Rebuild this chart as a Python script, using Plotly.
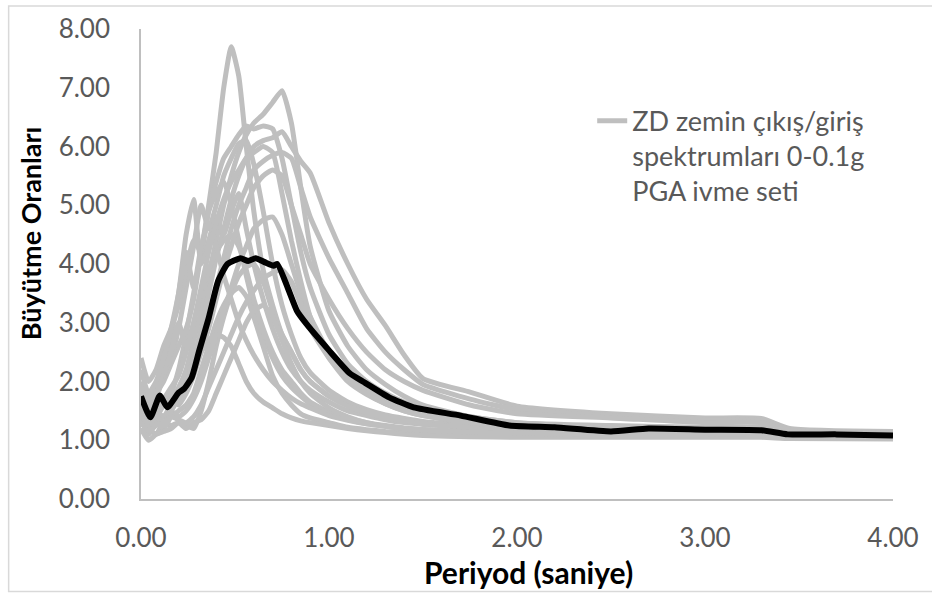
import plotly.graph_objects as go

# Periods (s) shared by the individual output/input spectral ratio curves
periods = [0.0, 0.04, 0.08, 0.12, 0.16, 0.2, 0.24, 0.28, 0.32, 0.36, 0.4, 0.44, 0.48,
           0.52, 0.56, 0.6, 0.65, 0.7, 0.75, 0.8, 0.85, 0.9, 1.0, 1.1, 1.2, 1.3, 1.4,
           1.5, 1.75, 2.0, 2.5, 3.0, 3.3, 3.45, 4.0]

curve_a = [1.9, 1.6, 1.8, 2.0, 2.3, 2.6, 2.9, 3.4, 4.2, 5.0, 5.9, 7.0, 7.7, 7.2, 6.0, 4.9, 3.9, 3.3, 2.8, 2.5, 2.2, 2.0, 1.75, 1.6, 1.5, 1.42, 1.36, 1.3, 1.25, 1.2, 1.17, 1.16, 1.16, 1.12, 1.1]
curve_b = [1.5, 1.4, 1.5, 1.6, 1.7, 1.9, 2.2, 2.7, 3.2, 3.8, 4.4, 5.0, 5.5, 5.9, 6.2, 6.4, 6.55, 6.75, 6.95, 6.4, 5.3, 4.3, 3.2, 2.6, 2.2, 1.95, 1.75, 1.6, 1.4, 1.3, 1.22, 1.2, 1.2, 1.13, 1.1]
curve_c = [1.3, 1.5, 1.4, 1.6, 1.8, 2.2, 2.8, 3.5, 4.2, 4.9, 5.4, 5.8, 6.0, 6.2, 6.35, 6.3, 6.35, 6.3, 5.8, 5.0, 4.2, 3.6, 2.8, 2.3, 2.0, 1.8, 1.65, 1.55, 1.4, 1.3, 1.25, 1.22, 1.22, 1.15, 1.12]
curve_d = [1.6, 1.4, 1.5, 1.7, 1.6, 1.8, 2.0, 2.4, 2.9, 3.5, 4.1, 4.6, 5.1, 5.5, 5.8, 6.0, 6.1, 6.15, 6.25, 6.0, 5.75, 5.55, 4.7, 4.0, 3.4, 2.95, 2.45, 2.05, 1.82, 1.58, 1.45, 1.38, 1.37, 1.2, 1.15]
curve_e = [1.4, 1.3, 1.5, 1.4, 1.6, 1.7, 1.9, 2.2, 2.6, 3.1, 3.6, 4.1, 4.6, 5.0, 5.3, 5.6, 5.75, 5.85, 5.9, 5.8, 5.3, 4.8, 4.1, 3.5, 2.9, 2.5, 2.2, 1.95, 1.7, 1.52, 1.42, 1.35, 1.33, 1.18, 1.12]
curve_f = [2.0, 1.7, 1.9, 2.3, 2.8, 3.5, 4.5, 5.1, 4.0, 4.4, 4.8, 4.5, 4.9, 5.2, 4.6, 4.0, 3.4, 2.9, 2.5, 2.2, 2.0, 1.85, 1.65, 1.5, 1.42, 1.35, 1.3, 1.27, 1.22, 1.18, 1.15, 1.14, 1.14, 1.1, 1.08]
curve_g = [1.8, 1.5, 1.7, 2.1, 2.4, 2.9, 3.6, 4.3, 5.0, 4.6, 5.0, 5.5, 5.8, 6.05, 6.1, 5.7, 4.9, 4.0, 3.3, 2.8, 2.4, 2.15, 1.85, 1.65, 1.52, 1.43, 1.37, 1.32, 1.25, 1.2, 1.17, 1.16, 1.15, 1.1, 1.08]
curve_h = [2.4, 2.0, 2.2, 2.6, 2.9, 3.3, 3.9, 4.4, 4.2, 4.9, 5.2, 5.4, 5.0, 4.4, 3.8, 3.3, 2.8, 2.4, 2.1, 1.9, 1.75, 1.62, 1.45, 1.35, 1.28, 1.24, 1.2, 1.18, 1.15, 1.12, 1.1, 1.1, 1.1, 1.07, 1.05]
curve_i = [1.3, 1.2, 1.1, 1.3, 1.25, 1.3, 1.25, 1.2, 1.5, 2.0, 2.6, 3.1, 3.5, 3.8, 3.95, 4.0, 3.7, 3.2, 2.8, 2.5, 2.2, 2.0, 1.75, 1.58, 1.47, 1.38, 1.33, 1.28, 1.22, 1.18, 1.16, 1.15, 1.15, 1.1, 1.08]
curve_j = [1.4, 1.1, 1.3, 1.2, 1.4, 1.5, 1.6, 1.8, 2.2, 2.6, 3.0, 3.3, 3.5, 3.6, 3.45, 3.1, 2.6, 2.1, 1.8, 1.6, 1.45, 1.38, 1.3, 1.22, 1.18, 1.15, 1.13, 1.12, 1.1, 1.08, 1.07, 1.07, 1.07, 1.05, 1.04]
curve_k = [1.2, 1.1, 1.3, 1.4, 1.5, 1.4, 1.5, 1.7, 2.0, 2.4, 2.8, 3.2, 3.6, 4.0, 4.3, 4.6, 4.75, 4.8, 4.5, 4.0, 3.5, 3.1, 2.5, 2.1, 1.85, 1.68, 1.55, 1.45, 1.32, 1.25, 1.2, 1.18, 1.18, 1.12, 1.1]
curve_l = [1.5, 1.3, 1.4, 1.6, 1.7, 1.6, 1.8, 2.1, 2.5, 2.9, 3.4, 3.9, 4.3, 4.7, 5.0, 5.3, 5.5, 5.6, 5.5, 5.0, 4.5, 4.0, 3.4, 2.9, 2.5, 2.2, 2.0, 1.85, 1.6, 1.45, 1.38, 1.3, 1.3, 1.16, 1.12]
curve_m = [1.7, 1.5, 1.8, 2.2, 2.5, 3.0, 2.6, 3.0, 3.5, 3.9, 4.2, 4.4, 4.5, 4.3, 3.9, 3.4, 2.9, 2.5, 2.2, 2.0, 1.8, 1.65, 1.48, 1.38, 1.3, 1.25, 1.21, 1.18, 1.14, 1.12, 1.1, 1.1, 1.1, 1.06, 1.05]
curve_n = [1.2, 1.0, 1.1, 1.15, 1.2, 1.3, 1.2, 1.3, 1.35, 1.5, 1.8, 2.1, 2.4, 2.7, 3.0, 3.2, 3.3, 3.1, 2.7, 2.3, 2.0, 1.8, 1.55, 1.4, 1.3, 1.24, 1.2, 1.17, 1.12, 1.1, 1.08, 1.08, 1.08, 1.05, 1.04]
curve_o = [1.5, 1.2, 1.4, 1.3, 1.5, 1.7, 1.9, 2.2, 2.5, 2.7, 2.8, 2.75, 2.6, 2.3, 2.0, 1.8, 1.65, 1.55, 1.45, 1.38, 1.33, 1.3, 1.25, 1.2, 1.16, 1.13, 1.1, 1.08, 1.06, 1.05, 1.05, 1.05, 1.05, 1.03, 1.02]
curve_p = [2.2, 1.8, 2.0, 2.4, 2.9, 3.5, 4.2, 3.6, 4.3, 4.7, 4.3, 3.8, 3.4, 3.0, 2.7, 2.45, 2.2, 2.0, 1.85, 1.72, 1.62, 1.55, 1.42, 1.34, 1.28, 1.24, 1.2, 1.18, 1.14, 1.12, 1.1, 1.1, 1.1, 1.07, 1.06]
curve_q = [1.6, 1.3, 1.5, 1.7, 1.9, 2.1, 2.5, 3.0, 3.6, 4.2, 4.7, 5.1, 5.4, 5.6, 5.8, 5.9, 6.0, 5.9, 5.2, 4.4, 3.7, 3.1, 2.4, 2.0, 1.78, 1.62, 1.5, 1.42, 1.3, 1.24, 1.2, 1.18, 1.18, 1.12, 1.1]
curve_r = [1.3, 1.15, 1.25, 1.3, 1.4, 1.35, 1.3, 1.4, 1.6, 1.9, 2.2, 2.5, 2.8, 3.1, 3.35, 3.55, 3.75, 3.85, 3.9, 3.7, 3.3, 2.9, 2.4, 2.05, 1.8, 1.62, 1.5, 1.42, 1.3, 1.24, 1.2, 1.17, 1.17, 1.1, 1.08]

gray_curves = [curve_a, curve_b, curve_c, curve_d, curve_e, curve_f, curve_g, curve_h, curve_i,
               curve_j, curve_k, curve_l, curve_m, curve_n, curve_o, curve_p, curve_q, curve_r]

# Mean curve (black)
mean_periods = [0.0, 0.05, 0.1, 0.14, 0.2, 0.23, 0.27, 0.31, 0.36, 0.41, 0.46, 0.53, 0.57, 0.61,
                0.665, 0.705, 0.725, 0.78, 0.83, 0.88, 1.0, 1.11, 1.18, 1.32, 1.45, 1.7, 1.96,
                2.2, 2.5, 2.7, 3.0, 3.3, 3.44, 3.7, 4.0]
mean_values = [1.75, 1.39, 1.76, 1.56, 1.81, 1.88, 2.07, 2.53, 3.08, 3.71, 4.0, 4.1, 4.05, 4.1,
               4.02, 3.97, 4.0, 3.6, 3.2, 2.98, 2.53, 2.14, 2.0, 1.73, 1.56, 1.42, 1.25,
               1.22, 1.15, 1.2, 1.18, 1.17, 1.1, 1.1, 1.08]

legend_label = "ZD zemin çıkış/giriş<br>spektrumları 0-0.1g<br>PGA ivme seti"
x_ticks = [0, 1, 2, 3, 4]
y_ticks = [0, 1, 2, 3, 4, 5, 6, 7, 8]

FONT = "Lato"
GRAY = "#BFBFBF"
TXT = "#595959"

fig = go.Figure()
for i, vals in enumerate(gray_curves):
    fig.add_trace(go.Scatter(
        x=periods, y=vals, mode="lines",
        line=dict(color=GRAY, width=5, shape="spline", smoothing=0.5),
        name=legend_label, legendgroup="g", showlegend=(i == 0),
        hoverinfo="skip"))

fig.add_trace(go.Scatter(
    x=mean_periods, y=mean_values, mode="lines",
    line=dict(color="#000000", width=6, shape="spline", smoothing=0.5),
    name="Ortalama", showlegend=False))

fig.update_layout(
    width=932, height=594,
    margin=dict(l=141, r=39, t=27, b=95),
    paper_bgcolor="white", plot_bgcolor="white",
    font=dict(family=FONT, color=TXT, size=26),
    showlegend=True,
    legend=dict(x=0.6, y=0.856, xanchor="left", yanchor="top",
                font=dict(family=FONT, size=27, color=TXT),
                bgcolor="rgba(0,0,0,0)", valign="top", itemwidth=30),
    xaxis=dict(range=[0, 4], tickvals=x_ticks,
               ticktext=[f"{v:.2f}" for v in x_ticks],
               showgrid=False, zeroline=False, showline=True,
               linecolor="#BFBFBF", linewidth=1.5, ticks="",
               ticklabelstandoff=15,
               tickfont=dict(family=FONT, size=26, color=TXT)),
    yaxis=dict(range=[0, 8], tickvals=y_ticks,
               ticktext=[f"{v:.2f}" for v in y_ticks],
               showgrid=False, zeroline=False, showline=True,
               linecolor="#BFBFBF", linewidth=1.5, ticks="",
               ticklabelstandoff=24,
               tickfont=dict(family=FONT, size=26, color=TXT)),
    annotations=[
        dict(text="<b>Periyod (saniye)</b>", xref="paper", yref="paper",
             x=0.515, y=-0.155, xanchor="center", yanchor="middle", showarrow=False,
             font=dict(family=FONT, size=30, color="#000000")),
        dict(text="<b>Büyütme Oranları</b>", xref="paper", yref="paper",
             x=-0.146, y=0.566, xanchor="center", yanchor="middle", showarrow=False,
             textangle=-90, font=dict(family=FONT, size=27, color="#000000")),
    ],
    shapes=[dict(type="rect", xref="paper", yref="paper",
                 x0=-0.176, x1=1.1, y0=-0.197, y1=1.049,
                 line=dict(color="#D9D9D9", width=1.5), fillcolor="rgba(0,0,0,0)",
                 layer="below")],
)

fig.write_html("out.html")
